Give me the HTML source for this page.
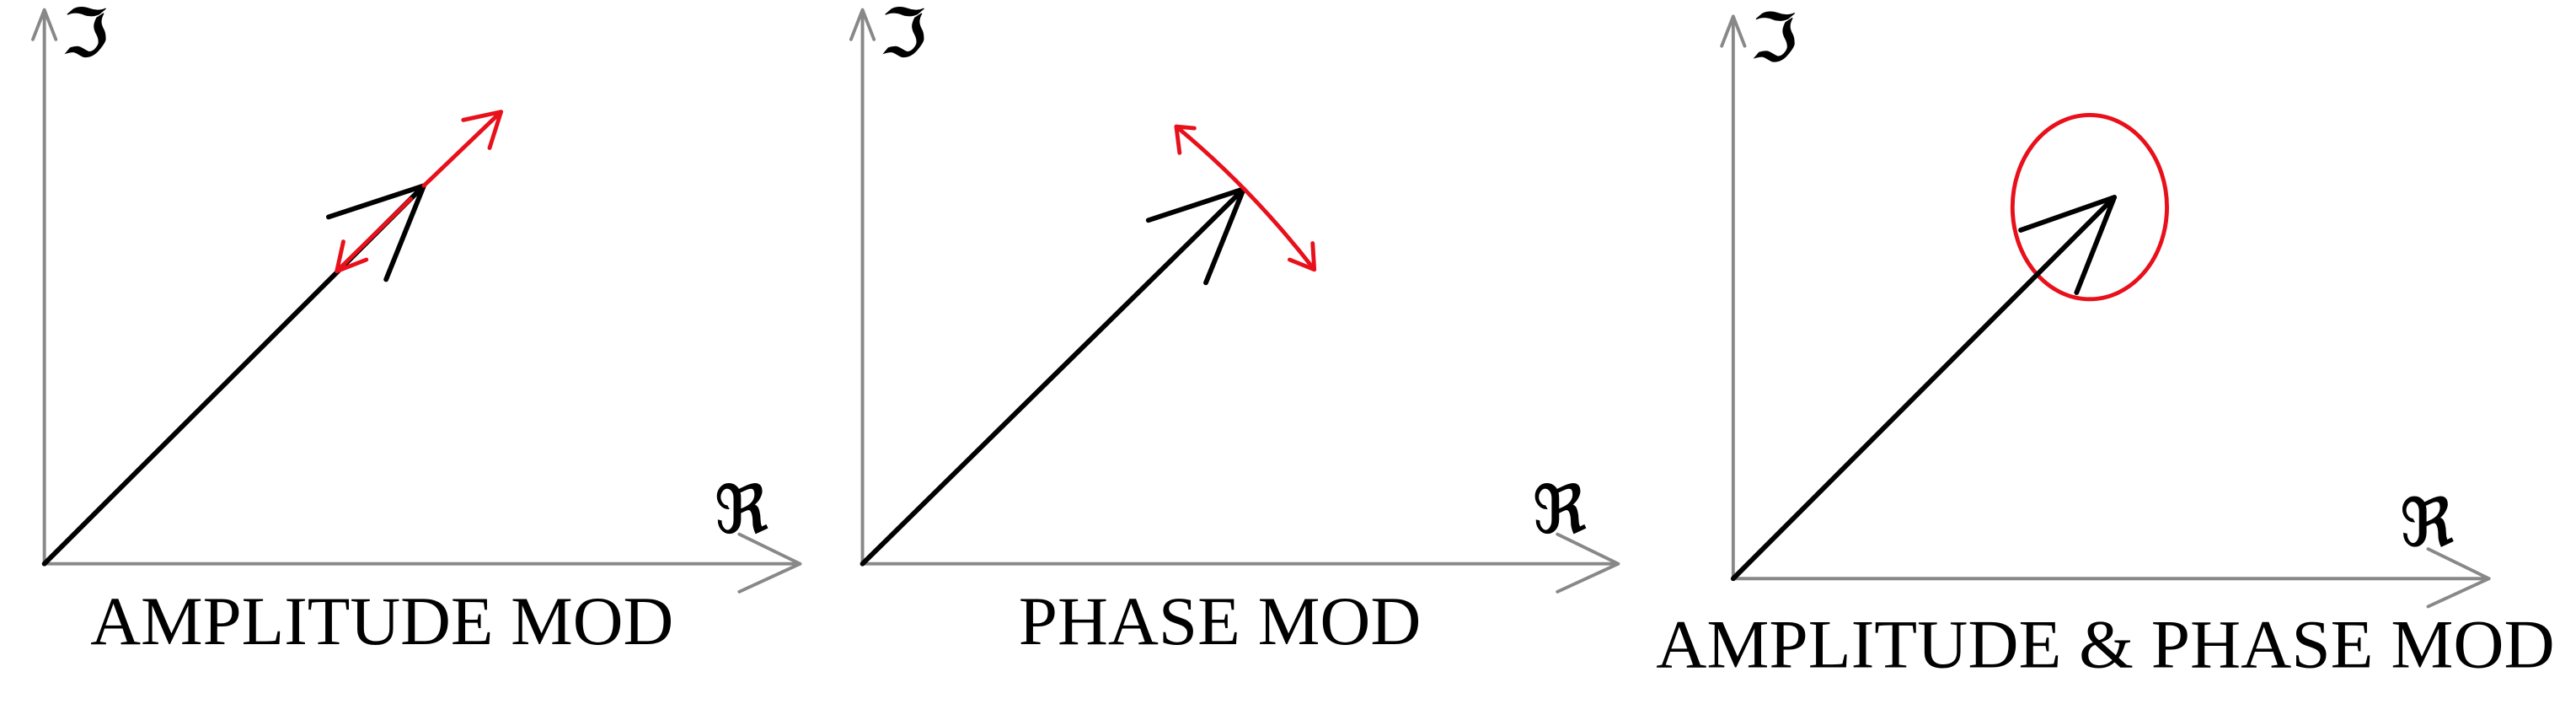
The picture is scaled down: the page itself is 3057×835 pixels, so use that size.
<!DOCTYPE html>
<html><head><style>html,body{margin:0;padding:0;background:#fff;}svg{display:block}</style></head>
<body>
<svg width="3057" height="835" viewBox="0 0 1568 428.3" preserveAspectRatio="none" xmlns="http://www.w3.org/2000/svg">
<g fill="none" stroke-linecap="round" stroke-linejoin="round">
<g stroke="#888" stroke-width="2">
<path d="M27,343 V6 M20,24 L27,6 L34,24"/>
<path d="M27,343 H487 M450,325 L487,343 L450,360"/>
</g>
<g stroke="#000" stroke-width="3">
<path d="M27,343 L258,113 M200,132 L258,113 L235,170"/>
</g>
<g stroke="#e8101a" stroke-width="2.5">
<path d="M258,113 L305,68 M282,73 L305,68 L298,90"/>
<path d="M250,121 L205,165 M209,147 L205,165 L223,158"/>
</g>
<g stroke="#888" stroke-width="2">
<path d="M525,343 V6 M518,24 L525,6 L532,24"/>
<path d="M525,343 H985 M948,325 L985,343 L948,360"/>
</g>
<g stroke="#000" stroke-width="3">
<path d="M525,343 L757,115 M699,134 L757,115 L734,172"/>
</g>
<g stroke="#e8101a" stroke-width="2.5">
<path d="M716,77 Q762,115 800,164"/>
<path d="M727,78 L716,77 L718,93"/>
<path d="M785,158 L800,164 L799,148"/>
</g>
<g stroke="#888" stroke-width="2">
<path d="M1055,352 V10 M1048,28 L1055,10 L1062,28"/>
<path d="M1055,352 H1515 M1478,334 L1515,352 L1478,369"/>
</g>
<ellipse cx="1272" cy="126" rx="47" ry="56" stroke="#e8101a" stroke-width="2.5"/>
<g stroke="#000" stroke-width="3">
<path d="M1055,352 L1287,120 M1230,140 L1287,120 L1264,178"/>
</g>
</g>
<g font-family="'DejaVu Serif','Liberation Serif',serif" font-size="40" fill="#000" stroke="#000" stroke-width="0.6">
<text x="38" y="34">ℑ</text>
<text x="435" y="324">ℜ</text>
<text x="536" y="34">ℑ</text>
<text x="933" y="324">ℜ</text>
<text x="1066" y="37">ℑ</text>
<text x="1461" y="332">ℜ</text>
</g>
<g font-family="'Liberation Serif',serif" font-size="42" fill="#000">
<text x="55" y="392" textLength="355" lengthAdjust="spacingAndGlyphs">AMPLITUDE MOD</text>
<text x="620" y="392" textLength="245" lengthAdjust="spacingAndGlyphs">PHASE MOD</text>
<text x="1008" y="406" textLength="547" lengthAdjust="spacingAndGlyphs">AMPLITUDE &amp; PHASE MOD</text>
</g>
</svg>
</body></html>
